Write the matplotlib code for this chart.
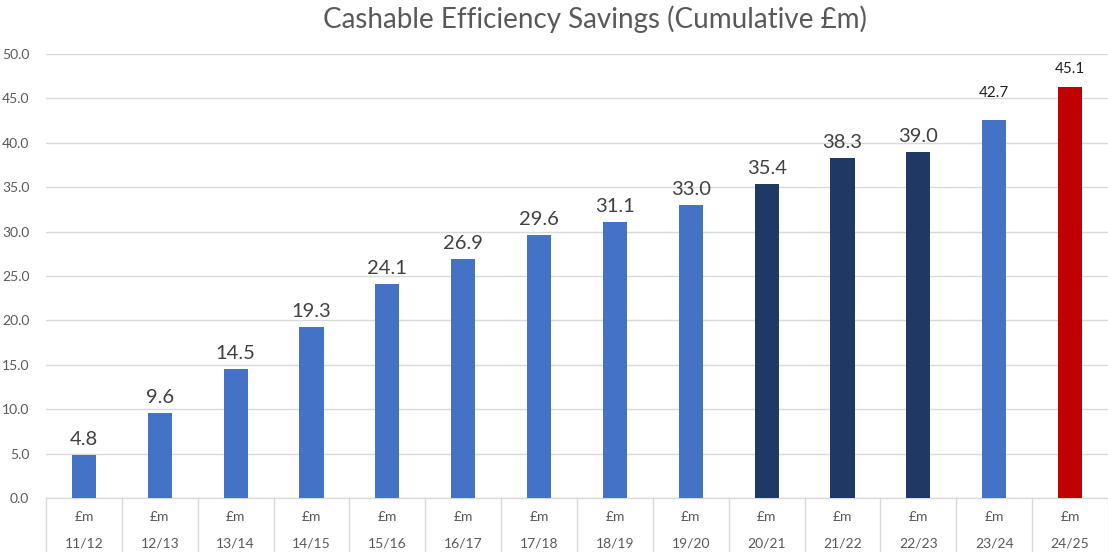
import matplotlib
matplotlib.use("Agg")
import matplotlib.pyplot as plt
import matplotlib.transforms as mtransforms
import numpy as np

years = ["11/12", "12/13", "13/14", "14/15", "15/16", "16/17", "17/18",
         "18/19", "19/20", "20/21", "21/22", "22/23", "23/24", "24/25"]
heights = [4.8, 9.6, 14.5, 19.3, 24.1, 26.9, 29.6, 31.1, 33.0, 35.4, 38.3, 39.0, 42.6, 46.3]
labels = ["4.8", "9.6", "14.5", "19.3", "24.1", "26.9", "29.6", "31.1", "33.0",
          "35.4", "38.3", "39.0", "42.7", "45.1"]
unit = "£m"

light = "#4472C4"
navy = "#203864"
red = "#C00000"
colors = [light] * 9 + [navy] * 3 + [light, red]

plt.rcParams["font.family"] = ["Lato", "DejaVu Sans"]

fig = plt.figure(figsize=(11.08, 5.52), dpi=100)
ax = fig.add_axes([46 / 1108, 54 / 552, 1 - 46 / 1108, 444 / 552])

x = np.arange(len(years))
ax.bar(x, heights, width=0.32, color=colors, zorder=3)

ax.set_xlim(-0.5, len(years) - 0.5)
ax.set_ylim(0, 50)
ax.set_yticks(np.arange(0, 51, 5))
ax.set_yticklabels([f"{v:.1f}" for v in np.arange(0, 51, 5)], color="#595959", fontsize=10)
ax.tick_params(axis="y", length=0, pad=12)
ax.set_xticks([])
ax.grid(axis="y", color="#D9D9D9", linewidth=1, zorder=0)
for s in ["top", "right", "left"]:
    ax.spines[s].set_visible(False)
ax.spines["bottom"].set_color("#D9D9D9")
ax.spines["bottom"].set_linewidth(1)

# data labels
for i, (h, lab) in enumerate(zip(heights, labels)):
    if i >= 12:
        ax.annotate(lab, (i, h), xytext=(0, 14 if i == 12 else 8), textcoords="offset points",
                    ha="center", va="bottom", fontsize=11, color="#202020")
    else:
        ax.annotate(lab, (i, h), xytext=(0, 5), textcoords="offset points",
                    ha="center", va="bottom", fontsize=14.5, color="#404040")

# table under the axis
trans = mtransforms.blended_transform_factory(ax.transData, ax.transAxes)
for b in np.arange(-0.5, len(years), 1.0):
    ax.plot([b, b], [0, -0.2], transform=trans, color="#D9D9D9", linewidth=1, clip_on=False)
trans_fig = mtransforms.blended_transform_factory(ax.transData, fig.transFigure)
for i, yr in enumerate(years):
    ax.text(i, 35 / 552, unit, transform=trans_fig, ha="center", va="center",
            fontsize=10, color="#595959")
    ax.text(i, 8 / 552, yr, transform=trans_fig, ha="center", va="center",
            fontsize=10, color="#595959")

fig.text(0.537, 0.965, "Cashable Efficiency Savings (Cumulative £m)", ha="center", va="center",
         fontsize=20, color="#595959")

fig.savefig("out.png", dpi=100)
